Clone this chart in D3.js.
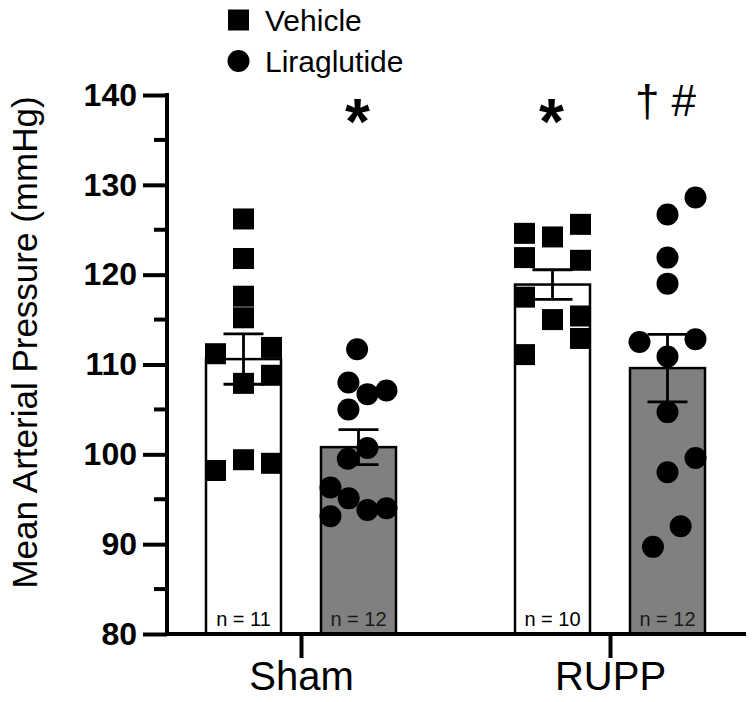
<!DOCTYPE html>
<html><head><meta charset="utf-8">
<script src="https://cdn.jsdelivr.net/npm/d3@7"></script>
<style>body{margin:0;background:#fff} svg{display:block}</style>
</head><body><svg id="chart" width="752" height="702"></svg>
<script>
// ---------- data ----------
const categories = ["Sham", "RUPP"];
const treatments = ["Vehicle", "Liraglutide"];
const yTicks = [80, 90, 100, 110, 120, 130, 140];

const shamVehicle        = [126.2, 121.8, 117.6, 115.2, 111.2, 111.9, 107.9, 108.8, 98.2, 99.4, 99.0];
const shamVehicleCol     = [0, 0, 0, 0, -1, 1, 0, 1, -1, 0, 1];
const shamLiraglutide    = [111.7, 108.0, 106.7, 107.1, 105.0, 100.7, 99.5, 96.3, 95.1, 93.8, 94.0, 93.1];
const shamLiraglutideCol = [-0.05, -0.36, 0.32, 1, -0.36, 0.32, -0.38, -1, -0.35, 0.32, 1, -1];
const ruppVehicle        = [124.6, 124.2, 125.6, 121.9, 121.6, 117.5, 115.0, 115.4, 112.9, 111.1];
const ruppVehicleCol     = [-1, 0, 1, -1, 1, -1, 0, 1, 1, -1];
const ruppLiraglutide    = [128.6, 126.7, 121.9, 119.0, 112.5, 112.8, 110.9, 104.7, 99.6, 98.0, 92.0, 89.7];
const ruppLiraglutideCol = [1, 0, 0, 0, -1, 1, 0, 0, 1, 0, 0.47, -0.52];

const vehicleMean     = [110.6, 118.9];
const vehicleSem      = [2.8, 1.65];
const liraglutideMean = [100.8, 109.6];
const liraglutideSem  = [1.95, 3.75];
const nVehicle        = ["n = 11", "n = 10"];
const nLiraglutide    = ["n = 12", "n = 12"];
const marks = [
  {cat: "Sham", trt: "Liraglutide", sym: "*", bold: true},
  {cat: "RUPP", trt: "Vehicle", sym: "*", bold: true},
  {cat: "RUPP", trt: "Liraglutide", sym: "† #", bold: false}
];

// ---------- build ----------
const groups = [
  {cat: "Sham", trt: "Vehicle", mean: vehicleMean[0], sem: vehicleSem[0], n: nVehicle[0], vals: shamVehicle, cols: shamVehicleCol},
  {cat: "Sham", trt: "Liraglutide", mean: liraglutideMean[0], sem: liraglutideSem[0], n: nLiraglutide[0], vals: shamLiraglutide, cols: shamLiraglutideCol},
  {cat: "RUPP", trt: "Vehicle", mean: vehicleMean[1], sem: vehicleSem[1], n: nVehicle[1], vals: ruppVehicle, cols: ruppVehicleCol},
  {cat: "RUPP", trt: "Liraglutide", mean: liraglutideMean[1], sem: liraglutideSem[1], n: nLiraglutide[1], vals: ruppLiraglutide, cols: ruppLiraglutideCol}
];

const font = "'Liberation Sans', Arial, Helvetica, sans-serif";
const svg = d3.select("#chart");
svg.append("rect").attr("width", 752).attr("height", 702).attr("fill", "#fff");

const axisX = 167, axisRight = 746;
const y = d3.scaleLinear().domain([80, 140]).range([634, 95]);
const x = d3.scalePoint().domain(categories).range([301, 610]);
const sub = d3.scalePoint().domain(treatments).range([-57.5, 57.5]);
const jitter = d3.scaleLinear().domain([-1, 1]).range([-28, 28]);
const barW = 75;
const fillOf = {Vehicle: "#ffffff", Liraglutide: "#808080"};
const cx = g => x(g.cat) + sub(g.trt);

// bars
svg.append("g").selectAll("rect").data(groups).join("rect")
  .attr("x", d => cx(d) - barW / 2)
  .attr("y", d => y(d.mean))
  .attr("width", barW)
  .attr("height", d => y(80) - y(d.mean))
  .attr("fill", d => fillOf[d.trt])
  .attr("stroke", "#000").attr("stroke-width", 2.5);

// points
const pts = groups.flatMap(g => g.vals.map((v, i) => ({g, v, c: g.cols[i]})));
const sq = 21, rad = 11;
const pg = svg.append("g");
pg.selectAll("rect").data(pts.filter(p => p.g.trt === "Vehicle")).join("rect")
  .attr("x", p => cx(p.g) + jitter(p.c) - sq / 2)
  .attr("y", p => y(p.v) - sq / 2)
  .attr("width", sq).attr("height", sq).attr("fill", "#000");
pg.selectAll("circle").data(pts.filter(p => p.g.trt === "Liraglutide")).join("circle")
  .attr("cx", p => cx(p.g) + jitter(p.c))
  .attr("cy", p => y(p.v))
  .attr("r", rad).attr("fill", "#000");

// error bars
const eg = svg.append("g").attr("stroke", "#000").attr("stroke-width", 2.8);
const capW = 40;
groups.forEach(g => {
  const c = cx(g);
  eg.append("line").attr("x1", c).attr("x2", c).attr("y1", y(g.mean - g.sem)).attr("y2", y(g.mean + g.sem));
  eg.append("line").attr("x1", c - capW / 2).attr("x2", c + capW / 2).attr("y1", y(g.mean + g.sem)).attr("y2", y(g.mean + g.sem));
  eg.append("line").attr("x1", c - capW / 2).attr("x2", c + capW / 2).attr("y1", y(g.mean - g.sem)).attr("y2", y(g.mean - g.sem));
});

// n labels
svg.append("g").selectAll("text").data(groups).join("text")
  .attr("x", d => cx(d)).attr("y", 626)
  .attr("text-anchor", "middle")
  .attr("font-family", font).attr("font-size", 20)
  .attr("fill", d => d.trt === "Vehicle" ? "#000" : "#1a1a1a")
  .text(d => d.n);

// y axis
const minor = d3.range(85, 140, 10);
const yAxis = svg.append("g").attr("transform", `translate(${axisX},0)`)
  .call(d3.axisLeft(y).tickValues(yTicks).tickSize(24).tickPadding(6).tickFormat(d3.format("d")));
yAxis.select(".domain").remove();
yAxis.selectAll(".tick line").attr("stroke", "#000").attr("stroke-width", 4);
yAxis.selectAll(".tick text").attr("font-family", font).attr("font-size", 32).attr("font-weight", "bold").attr("fill", "#000");
yAxis.append("g").selectAll("line").data(minor).join("line")
  .attr("x1", -13).attr("x2", 0).attr("y1", d => y(d)).attr("y2", d => y(d))
  .attr("stroke", "#000").attr("stroke-width", 4);
yAxis.append("line").attr("x1", 0).attr("x2", 0).attr("y1", y(140) - 2).attr("y2", y(80) + 2)
  .attr("stroke", "#000").attr("stroke-width", 4);

// x axis
const xAxis = svg.append("g").attr("transform", `translate(0,${y(80)})`)
  .call(d3.axisBottom(x).tickSize(24).tickPadding(4));
xAxis.select(".domain").remove();
xAxis.selectAll(".tick line").attr("stroke", "#000").attr("stroke-width", 4);
xAxis.selectAll(".tick text").attr("font-family", font).attr("font-size", 40).attr("fill", "#000");
xAxis.append("line").attr("x1", axisX - 2).attr("x2", axisRight).attr("y1", 0).attr("y2", 0)
  .attr("stroke", "#000").attr("stroke-width", 4);

// y title
svg.append("text")
  .attr("transform", `translate(37,${(y(140) + y(80)) / 2 - 22}) rotate(-90)`)
  .attr("text-anchor", "middle")
  .attr("font-family", font).attr("font-size", 35).attr("fill", "#000")
  .text("Mean Arterial Pressure (mmHg)");

// significance marks
svg.append("g").selectAll("text").data(marks).join("text")
  .attr("x", d => x(d.cat) + sub(d.trt) - (d.bold ? 1 : 2))
  .attr("y", d => d.bold ? 144 : 116)
  .attr("text-anchor", "middle")
  .attr("font-family", font)
  .attr("font-size", d => d.bold ? 64 : 44)
  .attr("font-weight", d => d.bold ? "bold" : "normal")
  .text(d => d.sym);

// legend
const lg = svg.append("g").attr("transform", "translate(228,0)");
const legendItems = treatments.map((t, i) => ({t, i}));
lg.selectAll("g").data(legendItems).join("g")
  .attr("transform", d => `translate(0,${20 + d.i * 41})`)
  .each(function (d) {
    const s = d3.select(this);
    if (d.t === "Vehicle") s.append("rect").attr("x", 0).attr("y", -sq / 2).attr("width", sq).attr("height", sq);
    else s.append("circle").attr("cx", sq / 2).attr("cy", 0).attr("r", rad);
    s.append("text").attr("x", 37).attr("y", 10.5)
      .attr("font-family", font).attr("font-size", 30).text(d.t);
  });
</script></body></html>
